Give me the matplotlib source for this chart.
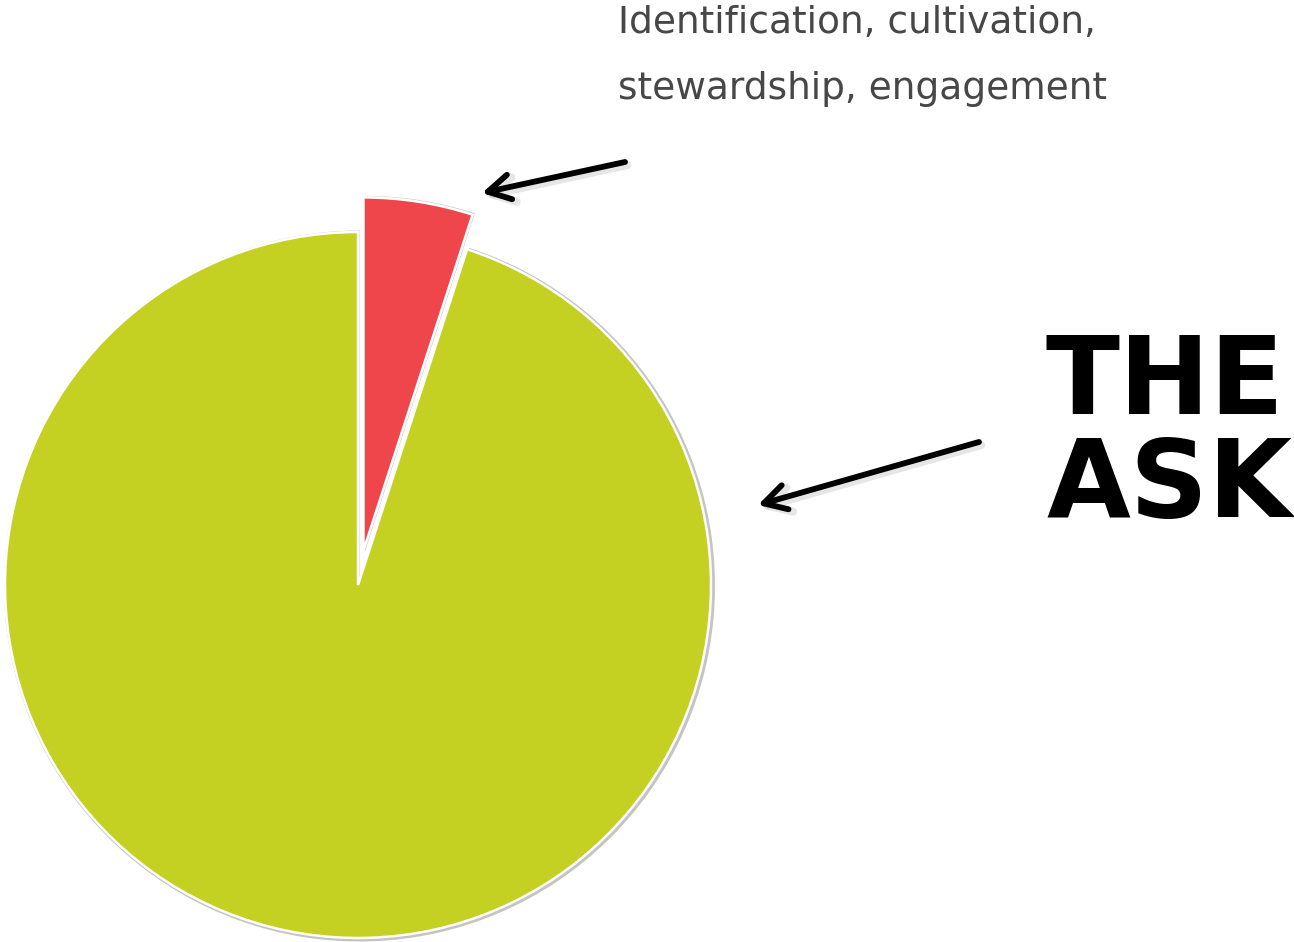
import matplotlib
matplotlib.use("Agg")
import matplotlib.pyplot as plt

# ---- data ----
slice_labels = ["Identification, cultivation, stewardship, engagement", "The ask"]
slice_values = [5, 95]
slice_colors = ["#EF464B", "#C4D122"]
note_lines = ["Identification, cultivation,", "stewardship, engagement"]
ask_lines = ["THE", "ASK"]

W, H = 1294, 942
fig = plt.figure(figsize=(W / 100, H / 100), dpi=100)
ax = fig.add_axes([0, 0, 1, 1])

def py(y):
    return H - y

center = (358, py(585))
radius = 353
explode = [35, 0]

# shadow / glow pie
ax.pie(slice_values, colors=["#c4c4c4", "#c4c4c4"], startangle=90, counterclock=False,
       radius=radius + 2.5, center=(center[0] + 1.5, center[1] - 1.0), explode=explode,
       wedgeprops=dict(linewidth=0), frame=True)
# main pie
ax.pie(slice_values, colors=slice_colors, startangle=90, counterclock=False,
       radius=radius, center=center, explode=explode,
       wedgeprops=dict(edgecolor="white", linewidth=1.8), frame=True)

# text
ax.text(618, py(33), note_lines[0], fontsize=27, color="#474747", ha="left", va="baseline",
        family="DejaVu Sans")
ax.text(618, py(99), note_lines[1], fontsize=27, color="#474747", ha="left", va="baseline",
        family="DejaVu Sans")
ax.text(1046, py(414), ask_lines[0], fontsize=78, fontweight="bold", color="black",
        ha="left", va="baseline", family="DejaVu Sans")
ax.text(1046, py(517), ask_lines[1], fontsize=78, fontweight="bold", color="black",
        ha="left", va="baseline", family="DejaVu Sans")

# arrows
arrows = [((625, 162), (482, 193)), ((979, 442), (758, 505))]
for (tx, ty), (hx, hy) in arrows:
    ax.annotate("", xy=(hx + 2, py(hy) - 3), xytext=(tx + 2, py(ty) - 3),
                arrowprops=dict(arrowstyle="->,head_length=0.8,head_width=0.45",
                                lw=6, color="#c8c8c8", alpha=0.45,
                                shrinkA=0, shrinkB=0, mutation_scale=20))
    ax.annotate("", xy=(hx, py(hy)), xytext=(tx, py(ty)),
                arrowprops=dict(arrowstyle="->,head_length=0.8,head_width=0.45",
                                lw=4.2, color="black",
                                shrinkA=0, shrinkB=0, mutation_scale=20))

ax.set_xlim(0, W)
ax.set_ylim(0, H)
ax.set_aspect("auto")
ax.axis("off")
fig.savefig("out.png", dpi=100, facecolor="white")
